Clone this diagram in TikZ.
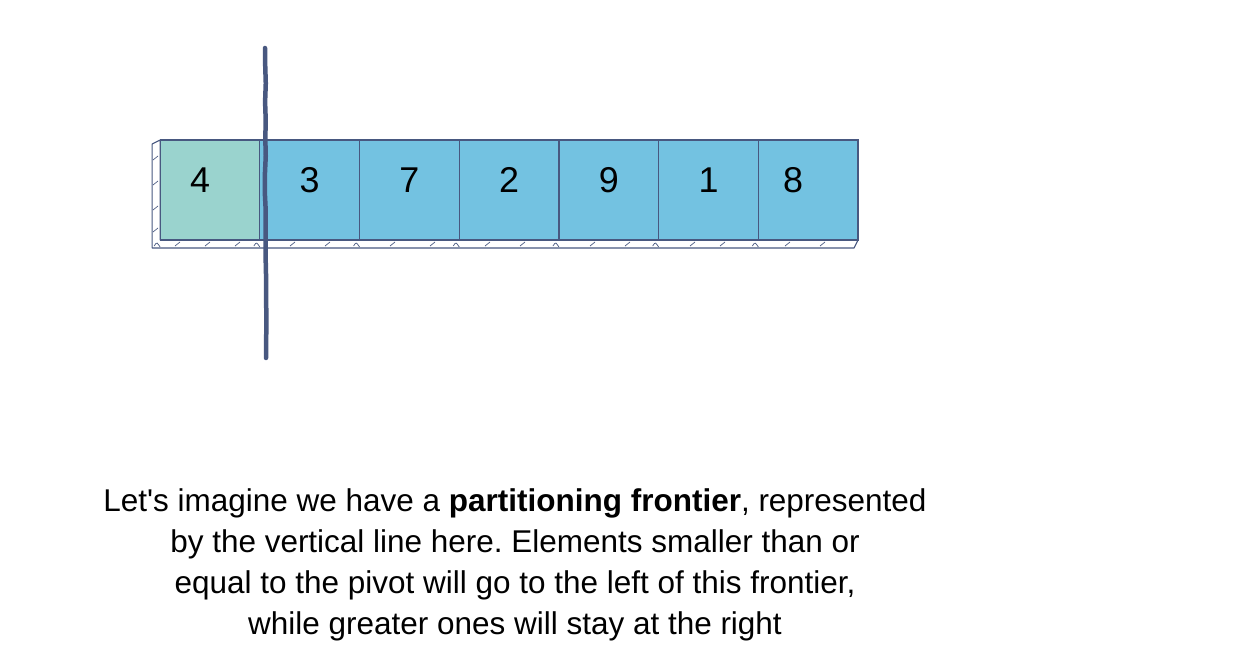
\documentclass[tikz,border=0pt]{standalone}
\usepackage{fontspec}
\setmainfont{Liberation Sans}
\usetikzlibrary{positioning,decorations.pathmorphing}

\definecolor{pivotfill}{RGB}{154,211,206}
\definecolor{cellfill}{RGB}{115,194,225}
\definecolor{inkline}{RGB}{72,88,128}

\begin{document}
\frenchspacing
\begin{tikzpicture}[x=1bp, y=-1bp, node distance=0bp,
  cell/.style={draw=inkline, line width=1.2bp, fill=cellfill,
    minimum width=99.7bp, minimum height=100bp, inner sep=0pt, outer sep=0pt,
    font=\fontsize{36}{40}\selectfont, text height=25.8bp, text depth=20bp},
  pivot/.style={cell, fill=pivotfill},
  shade/.style={draw=inkline, line width=1.1bp, fill=white, line join=round},
  hatch/.style={draw=inkline, line width=0.7bp},
  frontier/.style={draw=inkline, line width=4.5bp, line cap=round,
    decorate, decoration={random steps, segment length=18bp, amplitude=0.7bp}},
  caption/.style={align=center, font=\fontsize{31.6}{41.3}\selectfont}]
  \useasboundingbox (0,0) rectangle (1248,654);

  % the array
  \node[pivot] (c1) at (210,190) {\hspace*{-20bp}4};
  \node[cell]  (c2) [right=of c1] {3};
  \node[cell]  (c3) [right=of c2] {7};
  \node[cell]  (c4) [right=of c3] {2};
  \node[cell]  (c5) [right=of c4] {9};
  \node[cell]  (c6) [right=of c5] {1};
  \node[cell]  (c7) [right=of c6] {\hspace*{-30bp}8};

  % sketchy underside
  \path[shade] (c1.north west) -- ++(-8,4) -- ++(0,104) -- ([xshift=-4bp,yshift=-8bp]c7.south east)
    -- (c7.south east) -- (c1.south west) -- cycle;
  \foreach \i in {1,...,7}
    \draw[hatch] ([xshift=-6bp,yshift=-6bp]c\i.south west) .. controls ++(3,-5) and ++(-3,-4) .. ++(6,1);
  \foreach \x in {175,205,235,290,325,390,430,485,520,590,625,690,720,785,820}
    \draw[hatch] (\x,246) -- ++(5,-4);
  \foreach \y in {160,185,210,232}
    \draw[hatch] (153,\y) -- ++(5,-4);
  \foreach \i in {1,...,7}
    \draw[draw=inkline, line width=1.2bp] (c\i.north west) rectangle (c\i.south east);

  % the partitioning frontier
  \coordinate (top) at (265,48);
  \coordinate (bottom) at (266,358);
  \draw[frontier] (top) -- (bottom);

  \node[caption] (text) at (515,565) {Let\textquotesingle s imagine we have a \textbf{partitioning frontier}, represented\\
    by the vertical line here. Elements smaller than or\\
    equal to the pivot will go to the left of this frontier,\\
    while greater ones will stay at the right};
\end{tikzpicture}
\end{document}
